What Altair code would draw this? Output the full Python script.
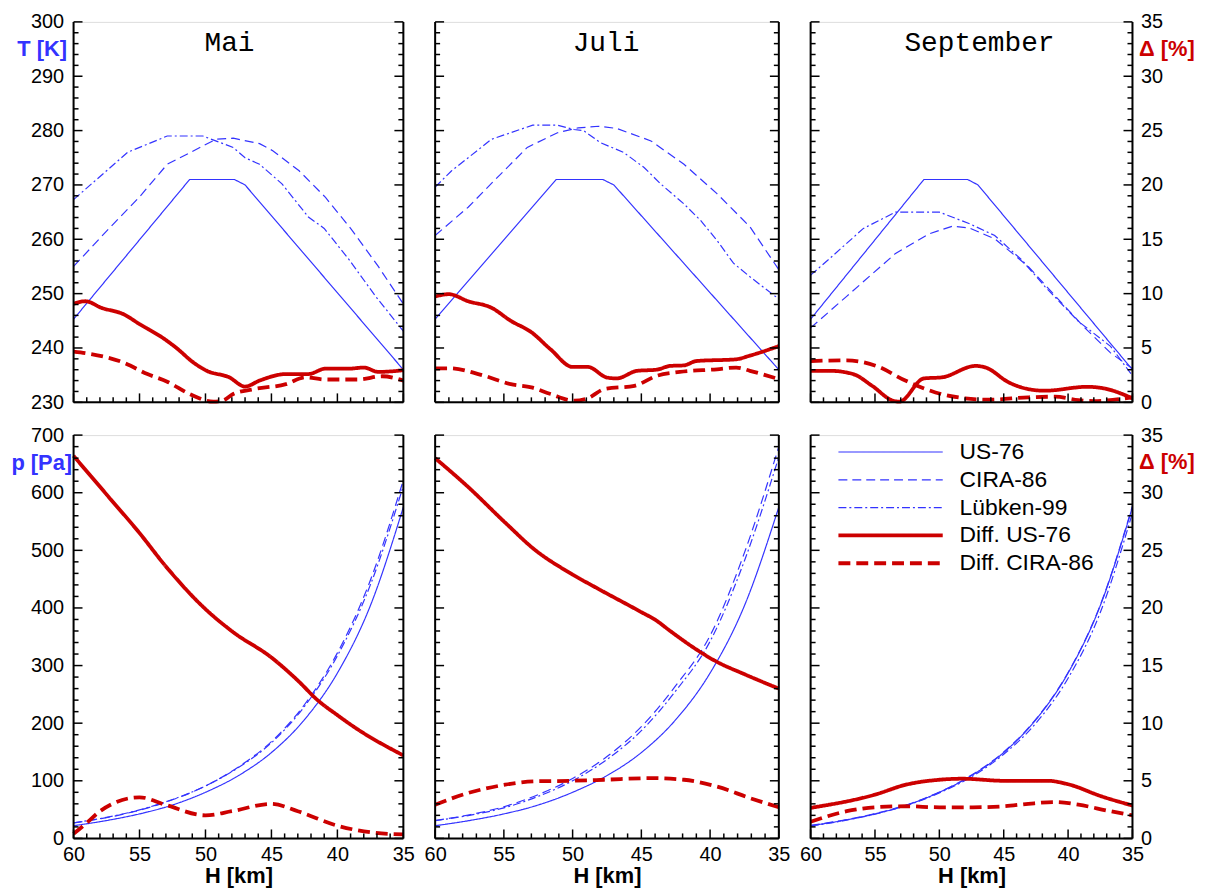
import altair as alt
import pandas as pd

# ---------------- data ----------------
SERIES = ["US-76", "CIRA-86", "Lübken-99", "Diff. US-76", "Diff. CIRA-86"]
MONTHS = ["Mai", "Juli", "September"]

# Temperature row (T [K]) -- US-76 identical in all months
H_T_US76 = [60, 51.2, 47.8, 47.0, 35]
T_US76 = [245.3, 271.0, 271.0, 270.0, 236.0]

H_T_CIRA_MAI = [60, 57.5, 55, 52.9, 49.2, 47.9, 45.9, 44.9, 42.9, 40.9, 38.9, 36.9, 35]
T_CIRA_MAI = [255.0, 261.5, 267.8, 273.8, 278.4, 278.6, 277.6, 276.3, 272.6, 267.7, 261.7, 255.0, 248.1]
H_T_LUB_MAI = [60, 55.9, 52.9, 50.2, 47.9, 47.0, 45.9, 44.2, 42.2, 41.0, 39.1, 37.1, 35]
T_LUB_MAI = [267.3, 276.0, 279.0, 279.0, 276.9, 275.0, 273.8, 270.2, 264.1, 262.0, 256.2, 249.5, 243.1]
H_DT_US_MAI = [60, 59.1, 57.9, 56.2, 55, 53.2, 52.2, 50.9, 49.9, 48.2, 47.0, 45.9, 43.9, 42.2, 40.9, 39.1, 38.0, 36.9, 35]
DT_US_MAI = [9.07, 9.3, 8.7, 8.1, 7.2, 5.9, 5.0, 3.65, 2.9, 2.3, 1.45, 2.0, 2.6, 2.6, 3.1, 3.1, 3.2, 2.8, 2.95]
H_DT_CI_MAI = [60, 59, 56.2, 54.4, 52.9, 51.2, 49.4, 48.7, 47.9, 46.4, 43.9, 42.4, 40.9, 38.4, 36.6, 35]
DT_CI_MAI = [4.66, 4.5, 3.65, 2.6, 1.9, 0.76, 0.06, 0.15, 0.76, 1.2, 1.67, 2.3, 2.1, 2.1, 2.4, 2.0]

H_T_CIRA_JUL = [60, 57.6, 55.7, 53.3, 51.1, 49.6, 48.1, 46.8, 44.3, 41.9, 39.5, 37.1, 35]
T_CIRA_JUL = [260.7, 265.9, 270.8, 276.9, 279.6, 280.5, 280.8, 280.4, 278.1, 273.8, 268.4, 262.3, 254.4]
H_T_LUB_JUL = [60, 58.8, 55.9, 52.9, 51.1, 49.9, 49.2, 48.0, 46.3, 44.8, 43.6, 41.9, 40.7, 39.5, 38.3, 37.1, 35]
T_LUB_JUL = [269.6, 272.6, 278.4, 281.0, 281.0, 280.2, 280.0, 277.8, 276.0, 273.2, 270.2, 266.5, 263.5, 259.8, 255.6, 253.1, 249.0]
H_DT_US_JUL = [60, 59.0, 57.6, 55.9, 54.5, 53.0, 51.6, 50.0, 48.9, 47.5, 46.8, 45.3, 43.9, 42.9, 41.9, 41.0, 38.1, 37.1, 35]
DT_US_JUL = [9.74, 9.95, 9.3, 8.7, 7.5, 6.45, 4.87, 3.26, 3.26, 2.28, 2.2, 2.9, 3.0, 3.35, 3.4, 3.8, 3.96, 4.3, 5.17]
H_DT_CI_JUL = [60, 59.0, 56.4, 54.5, 53.0, 51.6, 49.9, 48.9, 47.7, 45.5, 43.9, 42.2, 39.5, 38.1, 37.1, 35]
DT_CI_JUL = [3.13, 3.13, 2.43, 1.67, 1.37, 0.76, 0.15, 0.37, 1.22, 1.52, 2.43, 2.8, 3.04, 3.2, 2.9, 2.13]

H_T_CIRA_SEP = [60, 57.2, 53.4, 50.8, 49.0, 47.7, 45.7, 43.1, 40.5, 38.7, 36.7, 35]
T_CIRA_SEP = [243.7, 249.5, 257.4, 261.0, 262.4, 262.1, 260.1, 255.0, 248.3, 243.7, 239.1, 236.2]
H_T_LUB_SEP = [60, 58.5, 55.9, 53.4, 50.0, 47.7, 45.7, 43.6, 41.8, 39.2, 36.7, 35]
T_LUB_SEP = [253.4, 256.5, 262.0, 265.0, 265.0, 262.9, 260.7, 256.2, 251.3, 244.9, 240.3, 234.9]
H_DT_US_SEP = [60, 58.5, 56.7, 55.2, 53.6, 53.1, 51.2, 49.8, 47.2, 46.4, 44.6, 43.1, 41.8, 38.5, 37.2, 35]
DT_US_SEP = [2.9, 2.9, 2.6, 1.5, 0.15, 0.06, 2.2, 2.3, 3.35, 3.2, 1.83, 1.22, 1.07, 1.43, 1.28, 0.37]
H_DT_CI_SEP = [60, 57.2, 54.9, 52.6, 50.3, 48.0, 46.2, 43.1, 41.0, 39.2, 38.0, 35]
DT_CI_SEP = [3.8, 3.86, 3.35, 1.98, 0.91, 0.37, 0.24, 0.46, 0.52, 0.21, 0.12, 0.46]

# Pressure row (p [Pa])
H_P = [60, 57.5, 55, 52.5, 50, 47.5, 45, 42.5, 40, 37.5, 35]
P_US76 = [22, 31, 42.5, 58, 80, 109, 149, 206, 287, 404, 575]
P_CIRA_MAI = [27, 36, 49, 67, 91, 124, 168, 232, 322, 448, 622]
P_LUB_MAI = [27, 36.5, 49.5, 67.5, 91, 123, 166, 229, 317, 440, 612]
P_CIRA_JUL = [31, 41, 55, 76, 104, 142, 194, 265, 352, 496, 680]
P_LUB_JUL = [31, 40, 53, 73, 100, 137, 187, 256, 342, 482, 662]
P_CIRA_SEP = [22.5, 31.5, 43, 58.5, 80.5, 110, 150, 207, 288, 405, 577]
P_LUB_SEP = [21.5, 30.5, 42, 57.5, 79, 107, 146, 200, 278, 392, 565]

H_DP_US_MAI = [60, 57.5, 55, 53, 50, 47.9, 45, 43, 41.5, 40, 38.6, 35]
DP_US_MAI = [33.2, 29.85, 26.5, 23.6, 19.9, 17.9, 15.7, 13.7, 12.0, 10.7, 9.57, 7.2]
H_DP_CI_MAI = [60, 59, 58, 55, 53, 50, 48, 45, 43, 40, 37.4, 35]
DP_CI_MAI = [0.4, 1.35, 2.36, 3.57, 2.9, 2.0, 2.36, 3.0, 2.36, 1.1, 0.52, 0.35]
H_DP_US_JUL = [60, 57.6, 54.9, 52.8, 50, 48.2, 45.1, 43.9, 42.9, 41.0, 39.7, 37.4, 35]
DP_US_JUL = [33.0, 30.5, 27.4, 25.1, 22.9, 21.7, 19.7, 18.9, 18.0, 16.4, 15.45, 14.2, 13.0]
H_DP_CI_JUL = [60, 57.6, 54.9, 52.8, 50, 47.7, 44.3, 41.9, 39.5, 37.1, 35]
DP_CI_JUL = [2.93, 3.94, 4.66, 4.95, 5.0, 5.09, 5.23, 5.09, 4.5, 3.5, 2.7]
H_DP_US_SEP = [60, 55, 52.6, 50, 48.2, 45, 41.6, 40, 37.4, 35]
DP_US_SEP = [2.65, 3.8, 4.66, 5.09, 5.18, 5.0, 5.0, 4.7, 3.65, 2.85]
H_DP_CI_SEP = [60, 57.2, 55, 52.6, 50, 47.4, 45, 43.1, 41.0, 39.2, 36.9, 35]
DP_CI_SEP = [1.44, 2.36, 2.7, 2.79, 2.7, 2.7, 2.79, 3.0, 3.16, 2.93, 2.4, 2.0]

# axis tick values
H_TICKS_MAJOR = [60, 55, 50, 45, 40, 35]
H_TICKS_MINOR = [h for h in range(35, 61) if h % 5 != 0]
D_TICKS_MAJOR = [0, 5, 10, 15, 20, 25, 30, 35]
D_TICKS_MINOR = [d for d in range(0, 36) if d % 5 != 0]
T_LABELS = list(range(230, 301, 10))
P_LABELS = list(range(0, 701, 100))

# ---------------- styles / layout ----------------
BLUE = "#3333ff"
RED = "#cc0000"
FONT = "Liberation Sans"
LABEL_SIZE = 20
TITLE_SIZE = 22
WIDTHS = [332, 346, 324]
HEIGHTS = [383, 406]
TITLE_X = [157, 172, 170]
DASHES = [[1, 0], [9, 5], [8, 3, 2, 3], [1, 0], [12, 6]]
SWIDTHS = [1.2, 1.2, 1.2, 3.8, 3.8]


def frame(h_list, v_list, names):
    rows = []
    for hs, vs, n in zip(h_list, v_list, names):
        rows += [{"H": a, "v": b, "series": n} for a, b in zip(hs, vs)]
    return pd.DataFrame(rows)


TOP_BLUE = [
    frame([H_T_US76, H_T_CIRA_MAI, H_T_LUB_MAI], [T_US76, T_CIRA_MAI, T_LUB_MAI], SERIES[:3]),
    frame([H_T_US76, H_T_CIRA_JUL, H_T_LUB_JUL], [T_US76, T_CIRA_JUL, T_LUB_JUL], SERIES[:3]),
    frame([H_T_US76, H_T_CIRA_SEP, H_T_LUB_SEP], [T_US76, T_CIRA_SEP, T_LUB_SEP], SERIES[:3]),
]
TOP_RED = [
    frame([H_DT_US_MAI, H_DT_CI_MAI], [DT_US_MAI, DT_CI_MAI], SERIES[3:]),
    frame([H_DT_US_JUL, H_DT_CI_JUL], [DT_US_JUL, DT_CI_JUL], SERIES[3:]),
    frame([H_DT_US_SEP, H_DT_CI_SEP], [DT_US_SEP, DT_CI_SEP], SERIES[3:]),
]
BOT_BLUE = [
    frame([H_P, H_P, H_P], [P_US76, P_CIRA_MAI, P_LUB_MAI], SERIES[:3]),
    frame([H_P, H_P, H_P], [P_US76, P_CIRA_JUL, P_LUB_JUL], SERIES[:3]),
    frame([H_P, H_P, H_P], [P_US76, P_CIRA_SEP, P_LUB_SEP], SERIES[:3]),
]
BOT_RED = [
    frame([H_DP_US_MAI, H_DP_CI_MAI], [DP_US_MAI, DP_CI_MAI], SERIES[3:]),
    frame([H_DP_US_JUL, H_DP_CI_JUL], [DP_US_JUL, DP_CI_JUL], SERIES[3:]),
    frame([H_DP_US_SEP, H_DP_CI_SEP], [DP_US_SEP, DP_CI_SEP], SERIES[3:]),
]
for df in TOP_RED + BOT_RED:
    df.rename(columns={"v": "d"}, inplace=True)


def style():
    return dict(
        color=alt.Color("series:N", scale=alt.Scale(domain=SERIES, range=[BLUE] * 3 + [RED] * 2), legend=None),
        strokeDash=alt.StrokeDash("series:N", scale=alt.Scale(domain=SERIES, range=DASHES), legend=None),
        strokeWidth=alt.StrokeWidth("series:O", scale=alt.Scale(type="ordinal", domain=SERIES, range=SWIDTHS),
                                    legend=None),
    )


def xenc(row):
    axis = None
    if row == 1:
        axis = alt.Axis(values=H_TICKS_MAJOR, title="H [km]", ticks=False, tickSize=0, domain=False,
                        grid=False, labelPadding=6, labelFontSize=LABEL_SIZE, labelFont=FONT,
                        labelColor="black", labelFlush=False, labelOverlap=False, titleFont=FONT,
                        titleFontSize=TITLE_SIZE, titleFontWeight="bold", titleColor="black", titlePadding=1)
    return alt.X("H:Q", scale=alt.Scale(domain=[35, 60], reverse=True, nice=False, zero=False), axis=axis)


def ydelta(row, col):
    axis = None
    if col == 2:
        axis = alt.Axis(orient="right", values=D_TICKS_MAJOR, title="Δ [%]", titleAngle=0, titleAlign="left",
                        titleBaseline="middle", titleX=6, titleY=27, titleColor=RED, titleFont=FONT,
                        titleFontSize=TITLE_SIZE, titleFontWeight="bold", ticks=False, tickSize=0,
                        domain=False, grid=False, labelPadding=8, labelFontSize=LABEL_SIZE, labelFont=FONT,
                        labelColor="black", labelOverlap=False, labelFlush=False)
    return alt.Y("d:Q", scale=alt.Scale(domain=[0, 35], nice=False, zero=False), axis=axis)


def yblue(row, col):
    axis = None
    if col == 0:
        if row == 0:
            vals, title, tx, ty = T_LABELS, "T [K]", -7, 27
        else:
            vals, title, tx, ty = P_LABELS, "p [Pa]", -2, 28
        axis = alt.Axis(orient="left", values=vals, title=title, titleAngle=0, titleAlign="right",
                        titleBaseline="middle", titleX=tx, titleY=ty, titleColor=BLUE, titleFont=FONT,
                        titleFontSize=TITLE_SIZE, titleFontWeight="bold", ticks=False, tickSize=0,
                        domain=False, grid=False, labelPadding=10, labelFontSize=LABEL_SIZE, labelFont=FONT,
                        labelColor="black", labelOverlap=False, labelFlush=False)
    dom = [230, 300] if row == 0 else [0, 700]
    return alt.Y("v:Q", scale=alt.Scale(domain=dom, nice=False, zero=False), axis=axis)


one = pd.DataFrame({"k": [0]})


def panel(row, col):
    w, h = WIDTHS[col], HEIGHTS[row]
    blue_df = (TOP_BLUE if row == 0 else BOT_BLUE)[col]
    red_df = (TOP_RED if row == 0 else BOT_RED)[col]
    interp = "linear" if row == 0 else "monotone"

    blue = alt.Chart(blue_df).mark_line(interpolate=interp).encode(
        x=xenc(row), y=yblue(row, col), **style())

    red = alt.Chart(red_df).mark_line(interpolate="monotone").encode(
        x=xenc(row), y=ydelta(row, col), **style())

    dmaj = pd.DataFrame({"d": D_TICKS_MAJOR})
    dmin = pd.DataFrame({"d": D_TICKS_MINOR})
    hmaj = pd.DataFrame({"H": H_TICKS_MAJOR})
    hmin = pd.DataFrame({"H": H_TICKS_MINOR})
    tk = dict(color="black", strokeWidth=1.5)
    ticks = [
        alt.Chart(dmaj).mark_rule(**tk).encode(y=ydelta(row, col), x=alt.value(0), x2=alt.value(9)),
        alt.Chart(dmin).mark_rule(**tk).encode(y=ydelta(row, col), x=alt.value(0), x2=alt.value(5)),
        alt.Chart(dmaj).mark_rule(**tk).encode(y=ydelta(row, col), x=alt.value(w), x2=alt.value(w - 9)),
        alt.Chart(dmin).mark_rule(**tk).encode(y=ydelta(row, col), x=alt.value(w), x2=alt.value(w - 5)),
        alt.Chart(hmaj).mark_rule(**tk).encode(x=xenc(row), y=alt.value(h), y2=alt.value(h - 9)),
        alt.Chart(hmin).mark_rule(**tk).encode(x=xenc(row), y=alt.value(h), y2=alt.value(h - 5)),
    ]
    fr = dict(color="black", strokeWidth=2)
    borders = [
        alt.Chart(one).mark_rule(**fr).encode(x=alt.value(0), y=alt.value(0), y2=alt.value(h)),
        alt.Chart(one).mark_rule(**fr).encode(x=alt.value(w), y=alt.value(0), y2=alt.value(h)),
        alt.Chart(one).mark_rule(**fr).encode(x=alt.value(0), x2=alt.value(w), y=alt.value(h)),
    ]
    extras = []
    if row == 0:
        extras.append(alt.Chart(one).mark_text(text=MONTHS[col], font="Liberation Mono", fontSize=28,
                                               align="center", baseline="alphabetic", color="black")
                      .encode(x=alt.value(TITLE_X[col]), y=alt.value(29)))
    inner = alt.layer(red, *ticks, *borders, *extras)
    layers = [blue, inner]
    if row == 1 and col == 2:
        leg_df = pd.DataFrame({"series": SERIES})
        yleg = alt.Y("series:N", scale=alt.Scale(type="point", domain=SERIES, range=[17, 129], padding=0),
                     axis=None)
        leg_lines = alt.Chart(leg_df).mark_rule().encode(x=alt.value(28), x2=alt.value(133), y=yleg, **style())
        leg_text = alt.Chart(leg_df).mark_text(align="left", baseline="middle", fontSize=23, font=FONT,
                                               color="black").encode(x=alt.value(150), y=yleg, text="series:N")
        layers.append(alt.layer(leg_lines, leg_text))
    return alt.layer(*layers).resolve_scale(y="independent").properties(width=w, height=h)


top = alt.hconcat(*[panel(0, c) for c in range(3)], spacing=32, bounds="flush")
bottom = alt.hconcat(*[panel(1, c) for c in range(3)], spacing=32, bounds="flush")
chart = alt.vconcat(top, bottom, spacing=11).properties(
    padding={"left": 2, "top": 0, "right": 5, "bottom": 5}
).configure_view(stroke=None).configure(font=FONT)

chart.save("out.html", embed_options={"renderer": "svg", "actions": False})
